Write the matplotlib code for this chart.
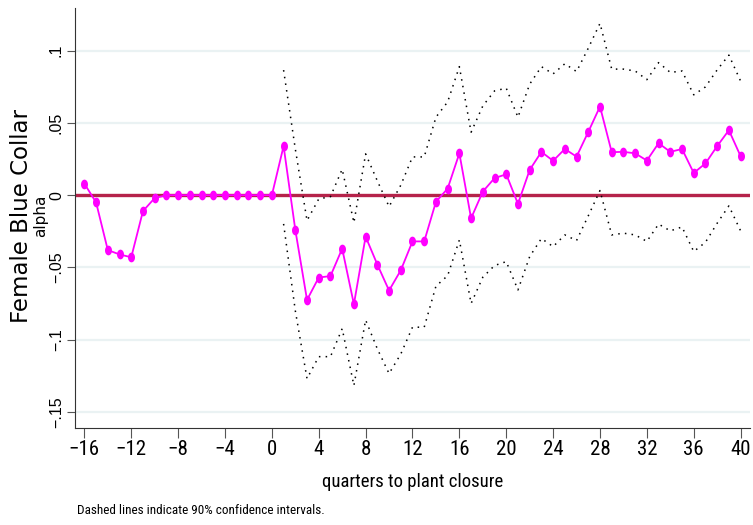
import numpy as np
import matplotlib
matplotlib.use('Agg')
import matplotlib.pyplot as plt
from matplotlib.path import Path
from matplotlib import font_manager as fm

# quarters relative to plant closure
quarters = list(range(-16, 41))

alpha = [0.008, -0.005, -0.038, -0.041, -0.043, -0.011, -0.002,
         0, 0, 0, 0, 0, 0, 0, 0, 0, 0,
         0.034, -0.024, -0.0725, -0.057, -0.056, -0.037, -0.0755, -0.0287,
         -0.048, -0.066, -0.052, -0.032, -0.032, -0.0046, 0.0046, 0.029,
         -0.016, 0.0025, 0.0118, 0.0145, -0.006, 0.0175, 0.030, 0.0238,
         0.032, 0.0267, 0.0438, 0.0614, 0.0298, 0.030, 0.029, 0.024,
         0.036, 0.030, 0.032, 0.0154, 0.022, 0.034, 0.045, 0.027]

# confidence intervals only exist after closure (quarters 1..40)
ci_quarters = list(range(1, 41))
ci_upper = [0.0866, 0.032, -0.0176, -0.0026, -0.001, 0.018, -0.019, 0.0286,
            0.0099, -0.0079, 0.0069, 0.0265, 0.0265, 0.054, 0.0646, 0.089,
            0.0436, 0.0618, 0.0722, 0.0741, 0.054, 0.0769, 0.089, 0.084,
            0.091, 0.0856, 0.1018, 0.119, 0.0873, 0.0873, 0.086, 0.080,
            0.0918, 0.085, 0.086, 0.0695, 0.075, 0.0868, 0.097, 0.079]
ci_lower = [-0.0199, -0.080, -0.127, -0.1118, -0.1118, -0.0924, -0.1318, -0.0864,
            -0.1064, -0.1235, -0.110, -0.0914, -0.0914, -0.063, -0.0557, -0.031,
            -0.075, -0.0568, -0.0487, -0.046, -0.0656, -0.0425, -0.030, -0.0356,
            -0.0275, -0.0314, -0.0143, 0.0032, -0.0275, -0.0263, -0.0275, -0.032,
            -0.020, -0.0247, -0.022, -0.039, -0.0326, -0.0194, -0.0074, -0.0247]

xticks = list(range(-16, 41, 4))
yticks = [-0.15, -0.1, -0.05, 0, 0.05, 0.1]
ytick_labels = ['\u2212.15', '\u2212.1', '\u2212.05', '0', '.05', '.1']

plt.rcParams['font.family'] = ['Liberation Sans', 'DejaVu Sans']

# look for a condensed face for the horizontal texts
narrow = None
narrow_stretch = 'normal'
names = {f.name for f in fm.fontManager.ttflist}
for cand in ['Liberation Sans Narrow', 'Roboto Condensed', 'Open Sans Condensed',
             'DejaVu Sans Condensed', 'Noto Sans Condensed']:
    if cand in names:
        narrow = cand
        break
if narrow is None:
    for f in fm.fontManager.ttflist:
        if f.stretch in ('condensed', 'semi-condensed', 'extra-condensed') and f.weight in (400, 'normal', 'regular'):
            narrow = f.name
            narrow_stretch = f.stretch
            break
if narrow is None:
    narrow_font = dict(family=['Liberation Sans', 'DejaVu Sans'])
    xt_size, xl_size, note_size = 12, 12, 8.5
else:
    narrow_font = dict(family=[narrow, 'DejaVu Sans'], stretch=narrow_stretch)
    xt_size, xl_size, note_size = 15, 13.5, 9.5

# Stata-like tall ellipse marker
t = np.linspace(0, 2 * np.pi, 40)
ellipse = Path(np.column_stack([0.72 * np.cos(t), np.sin(t)]), closed=True)

fig = plt.figure(figsize=(7.53, 5.25), dpi=100)
ax = fig.add_axes([0.0996, 0.1853, 0.8964, 0.7997])

for y in yticks:
    ax.axhline(y, color='#eaf2f3', lw=1.6, zorder=0)
ax.axhline(0, color='#b5234a', lw=2.4, zorder=1)

ax.plot(ci_quarters, ci_upper, color='black', lw=1.1, linestyle=(0, (1, 3.4)), zorder=2)
ax.plot(ci_quarters, ci_lower, color='black', lw=1.1, linestyle=(0, (1, 3.4)), zorder=2)
ax.plot(quarters, alpha, color='#ff00ff', lw=1.3, marker=ellipse, markersize=7,
        markeredgewidth=0, zorder=3)

ax.set_xlim(-16.8, 40.8)
ax.set_ylim(-0.161, 0.1297)

ax.spines['top'].set_visible(False)
ax.spines['right'].set_visible(False)
ax.spines['left'].set_color('#333333')
ax.spines['bottom'].set_color('#333333')

ax.set_xticks(xticks)
ax.set_xticklabels([str(v).replace('-', '\u2212') for v in xticks], fontsize=xt_size, **narrow_font)
ax.set_yticks(yticks)
ax.set_yticklabels(ytick_labels, rotation=90, va='center', fontsize=11.5)
ax.tick_params(axis='x', length=7, width=0.8, color='#555555', pad=2)
ax.tick_params(axis='y', length=6, width=0.8, color='#555555', pad=2)

ax.set_xlabel('quarters to plant closure', fontsize=xl_size, labelpad=10, **narrow_font)

fig.text(0.028, 0.588, 'Female Blue Collar', rotation=90, fontsize=16.5,
         family='DejaVu Sans', ha='center', va='center')
fig.text(0.054, 0.588, 'alpha', rotation=90, fontsize=11,
         family='DejaVu Sans', ha='center', va='center')
fig.text(0.102, 0.027, 'Dashed lines indicate 90% confidence intervals.',
         fontsize=note_size, ha='left', va='center', **narrow_font)

fig.savefig('out.png', dpi=100)
